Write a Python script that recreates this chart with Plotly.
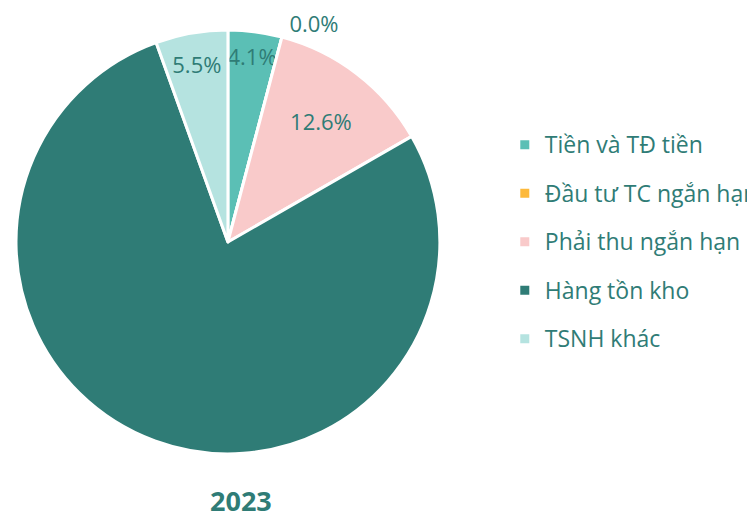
import plotly.graph_objects as go

# Cơ cấu tài sản ngắn hạn 2023 (%)
labels = ["Tiền và TĐ tiền", "Đầu tư TC ngắn hạn", "Phải thu ngắn hạn", "Hàng tồn kho", "TSNH khác"]
values = [4.1, 0.0, 12.6, 77.8, 5.5]
colors = ["#5BBFB5", "#FDB93B", "#F9CACA", "#2F7C76", "#B5E3E0"]
year_label = "2023"

TEXT_COLOR = "#2F7C76"
FONT = "Open Sans, Noto Sans, sans-serif"

# legend: big base font gives the wide row spacing, span keeps the visible text smaller
legend_labels = [f'<span style="font-size:23px;baseline-shift:5px">{t}</span>' for t in labels]

fig = go.Figure()
fig.add_trace(go.Pie(
    labels=legend_labels,
    values=values,
    sort=False,
    direction="clockwise",
    rotation=0,
    marker=dict(colors=colors, line=dict(color="white", width=3)),
    texttemplate="%{percent:.1%}",
    textposition=["inside", "outside", "inside", "inside", "inside"],
    insidetextorientation="horizontal",
    textfont=dict(color=TEXT_COLOR, size=22, family=FONT),
    domain=dict(x=[0.0106, 0.572], y=[0.1407, 0.9576]),
    hoverinfo="percent",
))

fig.update_layout(
    width=755, height=519,
    margin=dict(l=0, r=0, t=0, b=0, autoexpand=False),
    paper_bgcolor="white",
    font=dict(family=FONT, color=TEXT_COLOR),
    uniformtext=dict(minsize=22, mode="show"),
    legend=dict(x=0.658, y=0.549, xanchor="left", yanchor="middle",
                font=dict(size=35, color=TEXT_COLOR, family=FONT)),
    annotations=[dict(text=f"<b>{year_label}</b>", x=0.3086, y=0.052, xref="paper", yref="paper",
                      xanchor="center", yanchor="middle", showarrow=False,
                      font=dict(size=27, color=TEXT_COLOR, family=FONT))],
)

fig.write_html("out.html")
